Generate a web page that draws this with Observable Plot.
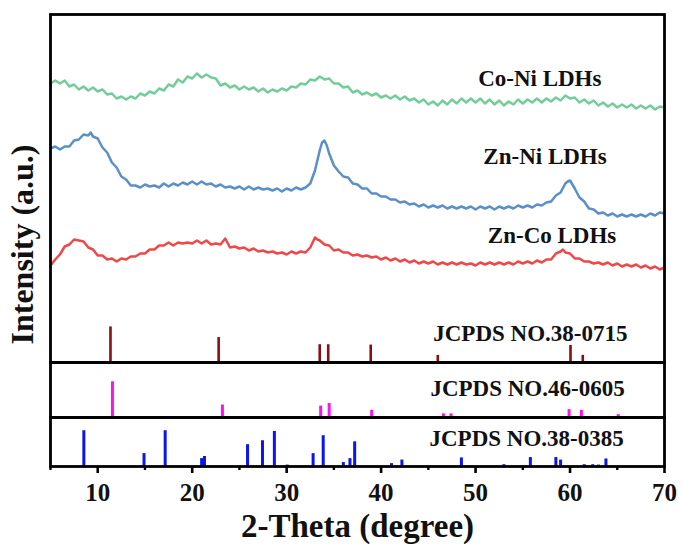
<!DOCTYPE html>
<html>
<head>
<meta charset="utf-8">
<script src="https://cdn.jsdelivr.net/npm/d3@7"></script>
<script src="https://cdn.jsdelivr.net/npm/@observablehq/plot@0.6"></script>
<style>
  body { margin: 0; background: #fff; }
  #chart { position: relative; width: 684px; height: 545px; background: #fff; }
  #chart svg { position: absolute; left: 0; display: block; background: transparent; overflow: visible; }
</style>
</head>
<body>
<div id="chart"></div>
<script>
// ---- Measured XRD patterns (2θ in degrees, intensity in a.u., already offset for stacking) ----
const coNiTheta = [5,5.5,6,6.5,7,7.5,8,8.5,9,9.5,10,10.5,11,11.5,12,12.5,13,13.5,14,14.5,15,15.5,16,16.5,17,17.5,18,18.5,19,19.5,20,20.5,21,21.5,22,22.5,23,23.5,24,24.5,25,25.5,26,26.5,27,27.5,28,28.5,29,29.5,30,30.5,31,31.5,32,32.5,33,33.5,34,34.5,35,35.5,36,36.5,37,37.5,38,38.5,39,39.5,40,40.5,41,41.5,42,42.5,43,43.5,44,44.5,45,45.5,46,46.5,47,47.5,48,48.5,49,49.5,50,50.5,51,51.5,52,52.5,53,53.5,54,54.5,55,55.5,56,56.5,57,57.5,58,58.5,59,59.5,60,60.5,61,61.5,62,62.5,63,63.5,64,64.5,65,65.5,66,66.5,67,67.5,68,68.5,69,69.5,70];
const coNiCounts = [279,282,279,282,276,278,273,276,272,275,271,273,268,269,264,266,263,266,264,269,267,271,269,274,272,278,276,283,280,286,284,289,285,288,285,284,277,279,275,277,273,276,273,275,271,274,270,273,271,274,272,276,275,279,278,283,282,286,283,284,279,279,275,276,270,272,268,270,267,269,265,267,264,267,263,266,262,264,260,263,258,261,257,262,258,263,259,264,260,264,260,264,259,263,258,262,257,261,258,263,259,263,260,264,260,264,261,265,262,267,264,265,260,263,259,262,257,260,256,259,255,258,255,258,254,257,254,257,253,256,255];

const znNiTheta = [5,5.5,6,6.5,7,7.5,8,8.5,9,9.25,9.5,10,10.5,11,11.5,12,12.5,13,13.5,14,14.5,15,15.5,16,16.5,17,17.5,18,18.5,19,19.5,20,20.5,21,21.5,22,22.5,23,23.5,24,24.5,25,25.5,26,26.5,27,27.5,28,28.5,29,29.5,30,30.5,31,31.5,32,32.5,33,33.25,33.5,33.75,34,34.25,34.5,35,35.5,36,36.5,37,37.5,38,38.5,39,39.5,40,40.5,41,41.5,42,42.5,43,43.5,44,44.5,45,45.5,46,46.5,47,47.5,48,48.5,49,49.5,50,50.5,51,51.5,52,52.5,53,53.5,54,54.5,55,55.5,56,56.5,57,57.5,58,58.5,59,59.5,59.75,60,60.25,60.5,61,61.5,62,62.5,63,63.5,64,64.5,65,65.5,66,66.5,67,67.5,68,68.5,69,69.5,70];
const znNiCounts = [214,216,213,216,216,222,223,228,227,230,226,224,215,210,200,195,186,183,177,177,175,178,176,177,175,179,176,179,177,180,178,181,178,181,178,179,176,178,175,176,174,176,173,176,173,175,173,174,172,174,171,174,172,175,173,175,179,192,202,212,220,222,217,209,197,191,186,185,179,178,174,174,169,169,166,166,163,163,160,161,158,159,156,158,155,157,155,157,154,156,154,156,154,156,153,156,154,156,153,156,154,156,154,157,155,157,155,158,157,160,161,167,170,179,181,182,178,174,165,161,154,153,149,150,147,149,146,148,146,148,146,148,146,149,147,150,149];

const znCoTheta = [5,5.5,6,6.5,7,7.5,8,8.5,9,9.5,10,10.5,11,11.5,12,12.5,13,13.5,14,14.5,15,15.5,16,16.5,17,17.5,18,18.5,19,19.5,20,20.5,21,21.5,22,22.5,23,23.5,24,24.5,25,25.5,26,26.5,27,27.5,28,28.5,29,29.5,30,30.5,31,31.5,32,32.5,32.75,33,33.25,33.5,34,34.5,35,35.5,36,36.5,37,37.5,38,38.5,39,39.5,40,40.5,41,41.5,42,42.5,43,43.5,44,44.5,45,45.5,46,46.5,47,47.5,48,48.5,49,49.5,50,50.5,51,51.5,52,52.5,53,53.5,54,54.5,55,55.5,56,56.5,57,57.5,58,58.5,59,59.25,59.5,60,60.5,61,61.5,62,62.5,63,63.5,64,64.5,65,65.5,66,66.5,67,67.5,68,68.5,69,69.5,70];
const znCoCounts = [97,103,108,116,118,123,122,121,115,113,107,107,103,104,101,104,103,106,106,109,109,113,113,117,117,120,117,120,119,120,119,122,119,122,118,119,118,124,115,116,114,115,112,114,111,112,110,111,109,110,108,111,109,111,110,115,120,125,123,122,118,117,112,113,110,110,107,108,106,107,105,106,103,105,102,104,101,103,100,102,99,101,99,101,98,100,98,100,98,100,98,99,97,100,98,100,98,100,98,100,98,101,99,101,99,102,100,103,103,109,111,113,110,109,104,104,101,101,99,100,98,100,97,99,96,98,96,98,95,97,94,96,93,95];

// ---- Standard reference patterns (2θ in degrees, relative intensity in %) ----
const ref380715Theta = [11.35, 22.8, 33.5, 34.4, 38.9, 46.0, 60.05, 61.35];
const ref380715Rel   = [100, 70, 50, 50, 49, 20, 48, 20];

const ref460605Theta = [11.56, 23.2, 33.6, 34.5, 39.0, 46.6, 47.4, 59.9, 61.2, 65.1];
const ref460605Rel   = [100, 35, 32, 39, 20, 10, 10, 22, 20, 8];

const ref380385Theta = [8.53, 14.9, 17.14, 21.0, 21.3, 25.86, 27.44, 28.7, 30.06, 32.8, 33.87, 36.0, 36.7, 37.2, 41.1, 42.2, 48.5, 53.0, 55.8, 58.5, 59.0, 61.5, 62.4, 63.0, 63.8];
const ref380385Rel   = [100, 36, 100, 22, 28, 61, 72, 98, 4, 36, 86, 11, 22, 69, 8, 18, 24, 5, 25, 25, 18, 5, 5, 4, 21];

const xMajorTicks = [10, 20, 30, 40, 50, 60, 70];
const xMinorTicks = [5, 15, 25, 35, 45, 55, 65];

const sampleNames = ["Co-Ni LDHs", "Zn-Ni LDHs", "Zn-Co LDHs"];
const refNames = ["JCPDS NO.38-0715", "JCPDS NO.46-0605", "JCPDS NO.38-0385"];
const xTitle = "2-Theta (degree)";
const yTitle = "Intensity (a.u.)";

// ---- helpers ----
const zip = (xs, ys, key) => xs.map((x, i) => ({theta: x, [key]: ys[i]}));
const FONT = '"Liberation Serif", "Times New Roman", Times, serif';
const W = 684, ML = 50, MR = 20;
const frameWidth = 2.8;
const curveWidth = 2.5;
const textStyle = {fontFamily: FONT, fontWeight: "bold", fill: "#111"};

// stick heights in the top panel share the curve units: 100 % -> 100 * stickScale a.u.
const stickScale = 0.356;

const chartEl = document.getElementById("chart");
function place(svg, offset) {
  svg.style.top = offset + "px";
  chartEl.appendChild(svg);
}

// Top panel: three measured patterns plus JCPDS 38-0715 sticks
const upperPanel = Plot.plot({
  width: W, height: 366,
  marginTop: 14, marginBottom: 4, marginLeft: ML, marginRight: MR,
  style: {background: "transparent", fontFamily: FONT},
  x: {domain: [5, 70], axis: null},
  y: {domain: [0, 348], axis: null},
  marks: [
    Plot.line(zip(coNiTheta, coNiCounts, "v"), {x: "theta", y: "v", stroke: "#72cd9a", strokeWidth: curveWidth}),
    Plot.line(zip(znNiTheta, znNiCounts, "v"), {x: "theta", y: "v", stroke: "#5b8fca", strokeWidth: curveWidth}),
    Plot.line(zip(znCoTheta, znCoCounts, "v"), {x: "theta", y: "v", stroke: "#f04848", strokeWidth: curveWidth}),
    Plot.ruleX(zip(ref380715Theta, ref380715Rel, "rel"), {x: "theta", y1: 0, y2: d => d.rel * stickScale, stroke: "#8a0d12", strokeWidth: 2.6}),
    Plot.text([sampleNames[0]], {x: 56.8, y: 284, fontSize: 23, ...textStyle}),
    Plot.text([sampleNames[1]], {x: 57.35, y: 206, fontSize: 23, ...textStyle}),
    Plot.text([sampleNames[2]], {x: 58.1, y: 127, fontSize: 23, ...textStyle}),
    Plot.text([refNames[0]], {x: 55.8, y: 28.7, fontSize: 23, ...textStyle}),
    // vertical axis title, placed left of the frame (2θ < 5) at mid-height of the stack
    Plot.text([yTitle], {x: 2.05, y: 118, rotate: -90, fontSize: 32, ...textStyle}),
    Plot.frame({stroke: "#000", strokeWidth: frameWidth})
  ]
});
place(upperPanel, 0);

// Middle panel: JCPDS 46-0605 sticks
const middlePanel = Plot.plot({
  width: W, height: 63,
  marginTop: 4, marginBottom: 4, marginLeft: ML, marginRight: MR,
  style: {background: "transparent", fontFamily: FONT},
  x: {domain: [5, 70], axis: null},
  y: {domain: [0, 154], axis: null},
  marks: [
    Plot.ruleX(zip(ref460605Theta, ref460605Rel, "rel"), {x: "theta", y1: 0, y2: "rel", stroke: "#ff10f0", strokeWidth: 3}),
    Plot.text([refNames[1]], {x: 55.5, y: 82, fontSize: 23, ...textStyle}),
    Plot.frame({stroke: "#000", strokeWidth: frameWidth})
  ]
});
place(middlePanel, 358);

// Bottom panel: JCPDS 38-0385 sticks and the shared 2θ axis
const lowerPanel = Plot.plot({
  width: W, height: 132,
  marginTop: 4, marginBottom: 79, marginLeft: ML, marginRight: MR,
  style: {background: "transparent", fontFamily: FONT},
  x: {domain: [5, 70], axis: null},
  y: {domain: [0, 137], axis: null},
  marks: [
    Plot.ruleX(zip(ref380385Theta, ref380385Rel, "rel"), {x: "theta", y1: 0, y2: "rel", stroke: "#0a14f0", strokeWidth: 3}),
    Plot.text([refNames[2]], {x: 55.4, y: 77.6, fontSize: 23, ...textStyle}),
    Plot.axisX(xMinorTicks, {tickSize: 4, tickFormat: () => "", label: null, strokeWidth: 2.4, stroke: "#000"}),
    Plot.axisX(xMajorTicks, {tickSize: 7, tickPadding: 10, label: null, strokeWidth: 2.6, stroke: "#000",
      fontSize: 25, fontFamily: FONT, fontWeight: "bold", fill: "#111"}),
    Plot.text([xTitle], {frameAnchor: "bottom", lineAnchor: "middle", dy: 60, fontSize: 33, ...textStyle}),
    Plot.frame({stroke: "#000", strokeWidth: frameWidth})
  ]
});
place(lowerPanel, 413);
</script>
</body>
</html>
